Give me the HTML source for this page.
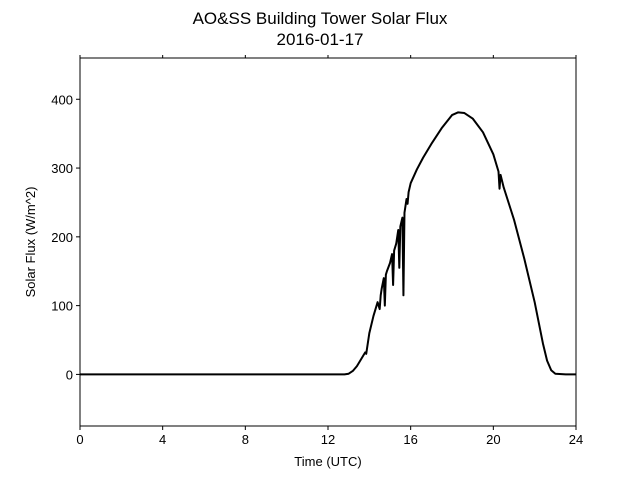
<!DOCTYPE html>
<html><head><meta charset="utf-8"><style>
body{margin:0;background:#fff;}
svg{display:block;font-family:"Liberation Sans","DejaVu Sans",sans-serif;}
</style></head><body>
<svg id="chart" width="640" height="480" viewBox="0 0 640 480">
<text x="320" y="24" font-size="17" text-anchor="middle">AO&amp;SS Building Tower Solar Flux</text>
<text x="320" y="45" font-size="17" text-anchor="middle">2016-01-17</text>
<g id="axes"></g>
<text x="328" y="466" font-size="13" text-anchor="middle">Time (UTC)</text>
<text transform="translate(35,242) rotate(-90)" font-size="13" text-anchor="middle">Solar Flux (W/m^2)</text>
</svg>
<script>
const xTicks=[0,4,8,12,16,20,24];
const yTicks=[0,100,200,300,400];
const hours=[0,12.8,13.0,13.2,13.4,13.6,13.8,13.85,14.0,14.2,14.4,14.5,14.55,14.6,14.7,14.75,14.8,14.85,15.0,15.1,15.15,15.2,15.3,15.4,15.45,15.5,15.6,15.65,15.7,15.75,15.8,15.85,15.9,16.0,16.3,16.6,17.0,17.5,18.0,18.3,18.6,19.0,19.5,20.0,20.25,20.3,20.35,20.5,21.0,21.5,22.0,22.2,22.4,22.6,22.8,23.0,23.5,24];
const flux=[0,0,1,5,12,22,32,30,60,85,105,95,115,125,140,100,145,150,162,175,130,180,190,210,155,215,228,115,235,245,255,248,265,278,298,315,335,358,377,381,380,372,352,320,295,270,290,272,225,168,105,75,45,20,6,1,0,0];
const X0=80,X1=576,Y0=58,Y1=426,ymin=-75,ymax=460;
const sx=h=>X0+(h-0)/24*(X1-X0);
const sy=v=>Y1-(v-ymin)/(ymax-ymin)*(Y1-Y0);
const NS="http://www.w3.org/2000/svg";
const g=document.getElementById('axes');
function mk(t,a){const e=document.createElementNS(NS,t);for(const k in a)e.setAttribute(k,a[k]);return e;}
const frame=mk('rect',{x:X0,y:Y0,width:X1-X0,height:Y1-Y0,fill:'none',stroke:'#000','stroke-width':1});


g.appendChild(frame);
xTicks.forEach(t=>{
  const x=sx(t);
  const tk=mk('line',{x1:x,x2:x,y1:Y1,y2:Y1+4,stroke:'#000'});
  
  
  g.appendChild(tk);
  const tt=mk('line',{x1:x,x2:x,y1:Y0-3,y2:Y0,stroke:'#000'});
  
  
  g.appendChild(tt);
  const lb=mk('text',{x:x,y:Y1+18,'font-size':13,'text-anchor':'middle'});
  lb.textContent=t;
  
  
  g.appendChild(lb);
});
yTicks.forEach(t=>{
  const y=sy(t);
  const tk=mk('line',{x1:X0-4,x2:X0,y1:y,y2:y,stroke:'#000'});
  
  
  g.appendChild(tk);
  const lb=mk('text',{x:X0-7,y:y+5,'font-size':13,'text-anchor':'end'});
  lb.textContent=t;
  
  
  g.appendChild(lb);
});
const pts=hours.map((h,i)=>sx(h).toFixed(2)+','+sy(flux[i]).toFixed(2)).join(' ');
const line=mk('polyline',{points:pts,fill:'none',stroke:'#000','stroke-width':2,'stroke-linejoin':'round'});


g.appendChild(line);
</script>
</body></html>
